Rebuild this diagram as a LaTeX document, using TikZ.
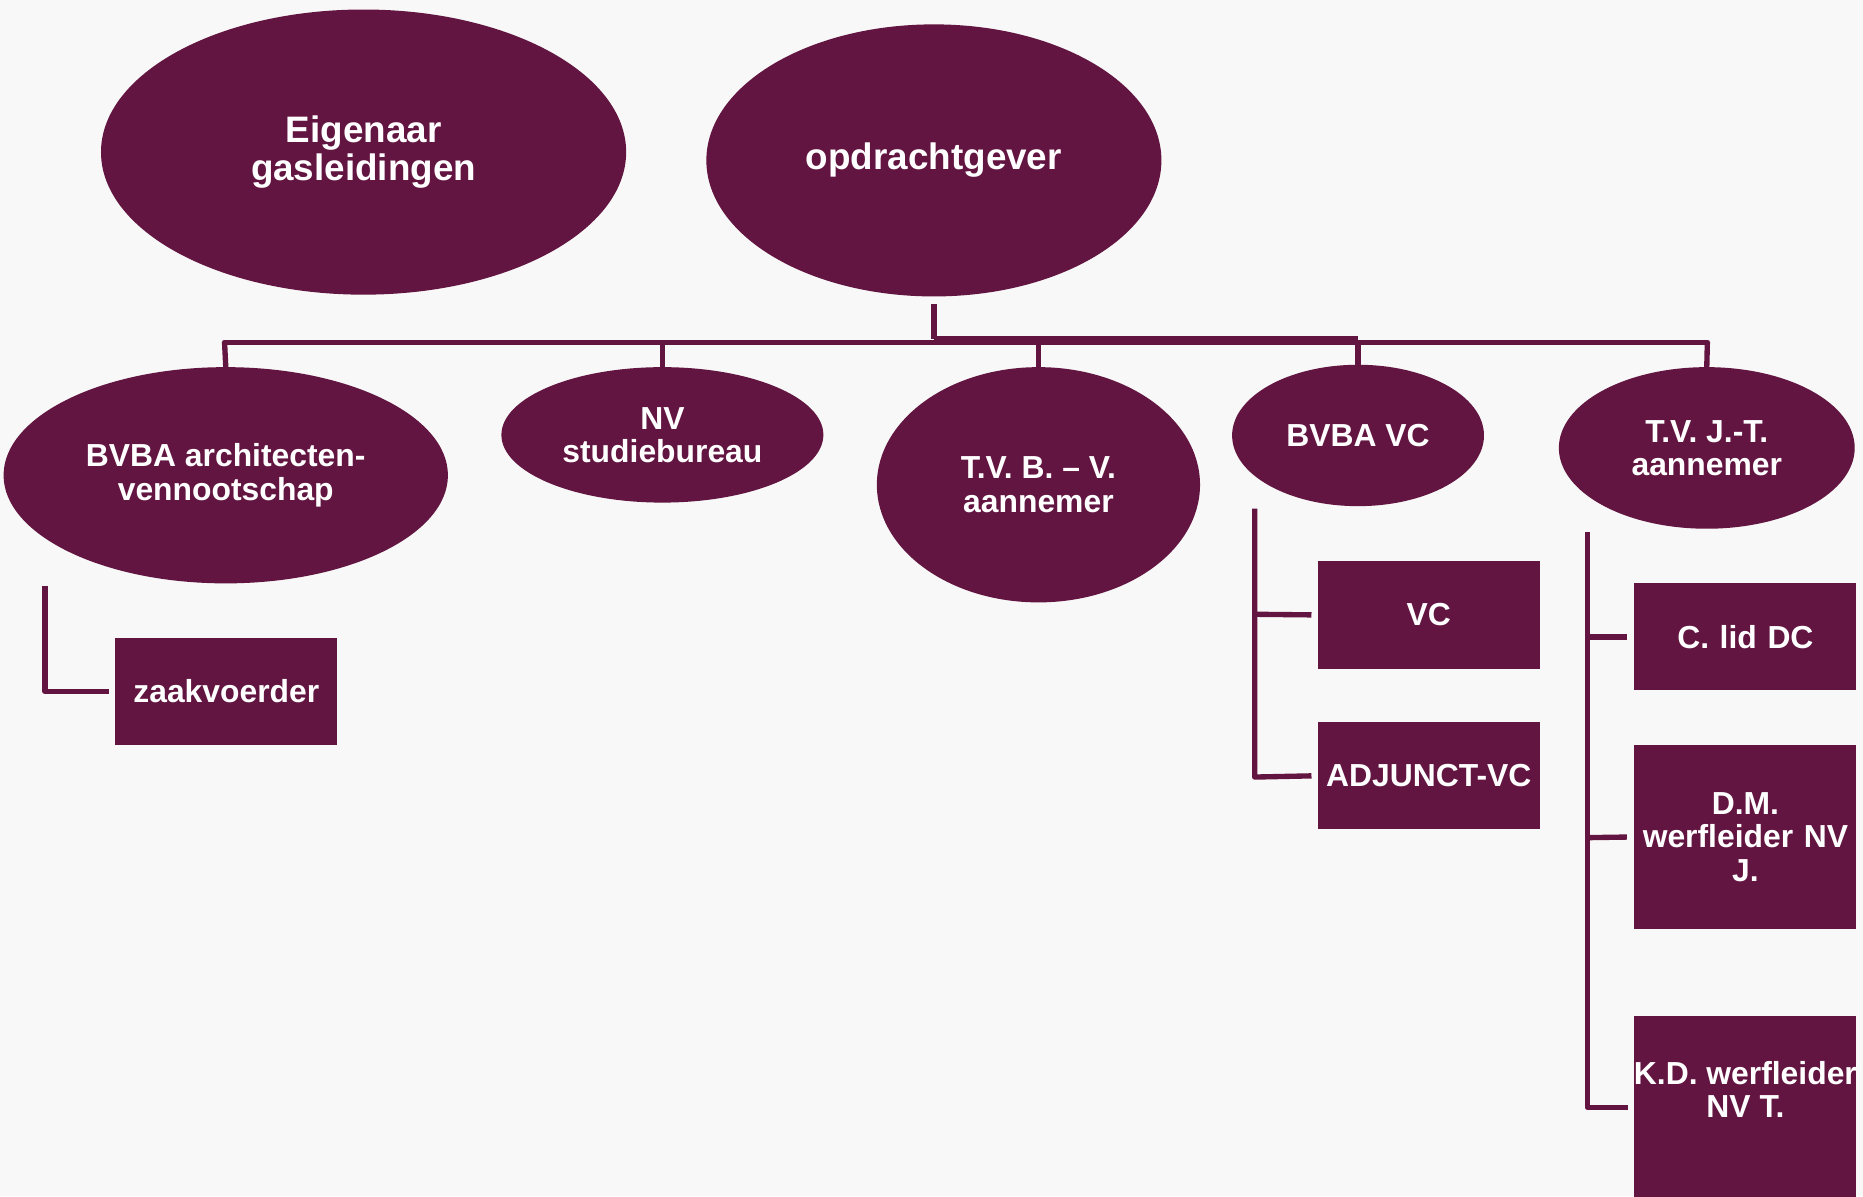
\documentclass[tikz,border=0pt]{standalone}
\usepackage{fontspec}
\setmainfont{Liberation Sans}
\usetikzlibrary{shapes.geometric}
\definecolor{plum}{HTML}{631541}
\definecolor{bg}{HTML}{F8F8F8}
\tikzset{
  oval/.style={ellipse, fill=plum, text=white, inner sep=0pt, align=center,
    font=\fontsize{26.8}{28}\selectfont\bfseries},
  bigoval/.style={oval, font=\fontsize{31}{32}\selectfont\bfseries},
  rolebox/.style={rectangle, fill=plum, text=white, inner sep=0pt,
    minimum width=187pt, text width=187pt, align=center,
    font=\fontsize{26.8}{28}\selectfont\bfseries},
  link/.style={draw=plum, line width=4.5pt},
}
\begin{document}
\begin{tikzpicture}[x=1pt,y=-1pt]
\fill[bg] (0,0) rectangle (1568,1007);
\useasboundingbox (0,0) rectangle (1568,1007);
% top row
\node[bigoval, minimum width=442pt, minimum height=240pt] (eig) at (306,128) {Eigenaar\\gasleidingen};
\node[bigoval, minimum width=383pt, minimum height=229pt] (opd) at (786,135) {opdrachtgever};
% second row
\node[oval, minimum width=374pt, minimum height=182pt] (arch) at (190,400) {BVBA architecten-\\vennootschap};
\node[oval, minimum width=271pt, minimum height=114pt] (nv) at (557.5,366) {NV\\studiebureau};
\node[oval, minimum width=272pt, minimum height=198pt] (tvb) at (874,408) {T.V. B. -- V.\\aannemer};
\node[oval, minimum width=212pt, minimum height=119pt] (vc) at (1143,366.5) {BVBA VC};
\node[oval, minimum width=249pt, minimum height=136pt] (tvj) at (1436.5,377) {T.V. J.-T.\\aannemer};
% boxes
\node[rolebox, minimum height=90pt] (zaak) at (190.5,582) {zaakvoerder};
\node[rolebox, minimum height=91pt] (vcb) at (1202.5,517.5) {VC};
\node[rolebox, minimum height=90pt] (adj) at (1202.5,653) {ADJUNCT-VC};
\node[rolebox, minimum height=90pt] (clid) at (1469,536) {C. lid DC};
\node[rolebox, minimum height=155pt] (dm) at (1469,704.5) {D.M.\\werfleider NV\\J.};
\node[rolebox, minimum height=186pt] (kd) at (1469,948) {};
\node[text=white, font=\fontsize{26.8}{28}\selectfont\bfseries, align=center, inner sep=0pt] (kdt) at (1469,917) {K.D. werfleider\\NV T.};
% bus
\coordinate (bl) at (189,288);
\coordinate (br) at (1437,288);
\draw[link] (opd.south) ++(0,6) -- ++(0,30);
\draw[link, line cap=round] (bl) -- (br);
\draw[link] (786,285) -- (1143,285);
\draw[link] (bl) -- (arch.north);
\draw[link] (557.5,288) -- (nv.north);
\draw[link] (874,288) -- (tvb.north);
\draw[link] (1143,288) -- (vc.north);
\draw[link] (br) -- (tvj.north);
% side connectors
\draw[link, line join=round] (38,493) -- (38,582) -- ([xshift=-5pt]zaak.west);
\draw[link, line join=round] (1056,428) -- (1056,654) -- ([xshift=-5pt]adj.west);
\draw[link] (1056,517) -- ([xshift=-5pt]vcb.west);
\draw[link, line join=round] (1336,448) -- (1336,932) -- (1370,932);
\draw[link] (1336,536) -- ([xshift=-6pt]clid.west);
\draw[link] (1336,705) -- ([xshift=-6pt]dm.west);
\end{tikzpicture}
\end{document}
